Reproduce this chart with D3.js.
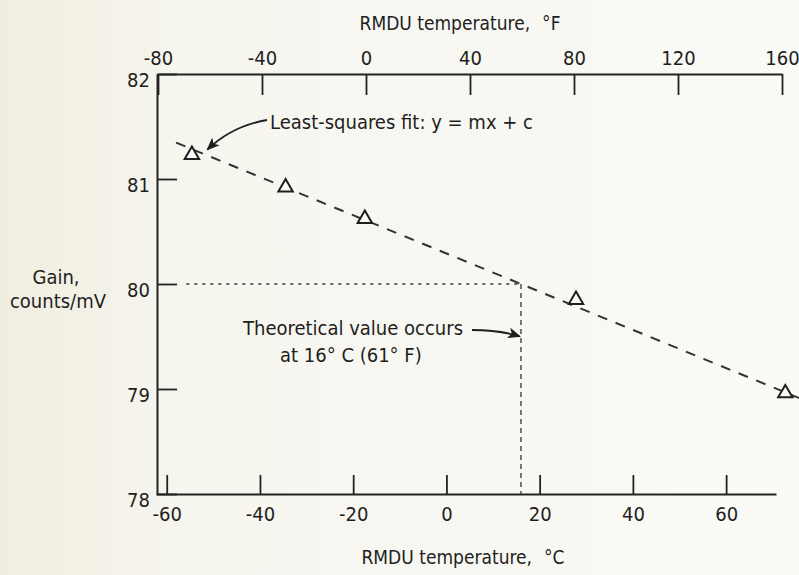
<!DOCTYPE html>
<html>
<head>
<meta charset="utf-8">
<script src="https://cdn.jsdelivr.net/npm/d3@7"></script>
<style>
  html, body { margin: 0; padding: 0; background: #f6f5ee; }
  svg { display: block; }
  text { font-family: "Liberation Sans Narrow", "DejaVu Sans Condensed", Arial, sans-serif; fill: #1e1e1e; }
</style>
</head>
<body>
<svg id="chart" width="799" height="575"></svg>
<script>
// Measured gain of the RMDU against its temperature
const tempC = [-54.6, -34.5, -17.5, 27.8, 72.7];
const gain  = [81.23, 80.92, 80.62, 79.85, 78.96];

// Least-squares fit y = m x + c (x in deg C)
const fitSlope = -0.0182;
const fitIntercept = 80.291;
const fitRangeC = [-58, 76];

// Theoretical gain value
const theoreticalGain = 80;

// Axis ticks
const ticksC = [-60, -40, -20, 0, 20, 40, 60];
const ticksF = [-80, -40, 0, 40, 80, 120, 160];
const ticksGain = [78, 79, 80, 81, 82];

const svg = d3.select("#chart");
const W = 799, H = 575;
const FONT = "\"Liberation Sans Narrow\", \"DejaVu Sans Condensed\", Arial, sans-serif";
const hyphenFmt = d => String(d);

// paper background, slightly warmer on the left
const defs = svg.append("defs");
const grad = defs.append("linearGradient").attr("id", "paper").attr("x1", 0).attr("x2", 1).attr("y1", 0).attr("y2", 0);
grad.append("stop").attr("offset", "0%").attr("stop-color", "#f0eedf");
grad.append("stop").attr("offset", "22%").attr("stop-color", "#f6f5ee");
grad.append("stop").attr("offset", "100%").attr("stop-color", "#fafaf7");
svg.append("rect").attr("width", W).attr("height", H).attr("fill", "url(#paper)");

defs.append("marker").attr("id", "arrow").attr("viewBox", "0 0 12 10")
  .attr("refX", 11).attr("refY", 5).attr("markerWidth", 13).attr("markerHeight", 11)
  .attr("markerUnits", "userSpaceOnUse").attr("orient", "auto")
  .append("path").attr("d", "M0,0 L12,5 L0,10 L3,5 Z").attr("fill", "#1e1e1e");

// Scales
const xC = d3.scaleLinear().domain([-62.3, 70.7]).range([156, 776]);
const xF = d3.scaleLinear().domain([-80, 160]).range([158, 782]);
const y  = d3.scaleLinear().domain([78, 82]).range([494, 74]);

const axisStyle = g => {
  g.selectAll("path.domain").attr("stroke", "#222").attr("stroke-width", 2);
  g.selectAll(".tick line").attr("stroke", "#222").attr("stroke-width", 1.8);
  g.selectAll(".tick text").attr("font-size", 20).attr("fill", "#1e1e1e").attr("font-family", FONT);
};

// Bottom axis (deg C)
svg.append("g").attr("transform", `translate(0,${y(78)})`)
  .call(d3.axisBottom(xC).tickValues(ticksC).tickSizeInner(-19).tickSizeOuter(0).tickPadding(13).tickFormat(hyphenFmt))
  .call(axisStyle);

// Top axis (deg F)
svg.append("g").attr("transform", `translate(0,${y(82)})`)
  .call(d3.axisTop(xF).tickValues(ticksF).tickSizeInner(-21).tickSizeOuter(0).tickPadding(9).tickFormat(hyphenFmt))
  .call(axisStyle);

// Left axis (gain)
const gAxis = svg.append("g").attr("transform", `translate(${xC.range()[0] + 1},0)`)
  .call(d3.axisLeft(y).tickValues(ticksGain).tickSizeInner(-20).tickSizeOuter(0).tickPadding(7).tickFormat(hyphenFmt))
  .call(axisStyle);
gAxis.selectAll(".tick text").attr("dy", "0.6em");

// Axis titles
const topTitle = svg.append("text").attr("x", 460).attr("y", 30).attr("font-size", 19)
  .attr("text-anchor", "middle");
topTitle.append("tspan").text("RMDU temperature,");
topTitle.append("tspan").attr("dx", 12).text("\u00B0F");
const botTitle = svg.append("text").attr("x", 463).attr("y", 564).attr("font-size", 19)
  .attr("text-anchor", "middle");
botTitle.append("tspan").text("RMDU temperature,");
botTitle.append("tspan").attr("dx", 12).text("\u00B0C");
svg.append("text").attr("x", 56).attr("y", 284).attr("text-anchor", "middle")
  .attr("font-size", 20).text("Gain,");
svg.append("text").attr("x", 58).attr("y", 308).attr("text-anchor", "middle")
  .attr("font-size", 20).text("counts/mV");

// Theoretical value guide lines
const theoreticalC = (theoreticalGain - fitIntercept) / fitSlope;
svg.append("line")
  .attr("x1", xC(-55.8)).attr("x2", xC(theoreticalC))
  .attr("y1", y(theoreticalGain)).attr("y2", y(theoreticalGain))
  .attr("stroke", "#666").attr("stroke-width", 1.8).attr("stroke-dasharray", "3,5");
svg.append("line")
  .attr("x1", xC(theoreticalC)).attr("x2", xC(theoreticalC))
  .attr("y1", y(theoreticalGain)).attr("y2", y(78))
  .attr("stroke", "#444").attr("stroke-width", 1.4).attr("stroke-dasharray", "5,4");

// Least-squares fit line
const fitLine = d3.line().x(d => xC(d)).y(d => y(fitSlope * d + fitIntercept));
svg.append("path").datum(fitRangeC).attr("d", fitLine)
  .attr("fill", "none").attr("stroke", "#333").attr("stroke-width", 2)
  .attr("stroke-dasharray", "10,9");

// Data points: open triangles
svg.append("g").selectAll("path").data(tempC.map((t, i) => [t, gain[i]])).join("path")
  .attr("transform", d => `translate(${xC(d[0])},${y(d[1])})`)
  .attr("d", d3.symbol(d3.symbolTriangle, 90))
  .attr("fill", "#fafaf7").attr("stroke", "#1e1e1e").attr("stroke-width", 2);

// Annotation: fit label and curved leader
svg.append("text").attr("x", 270).attr("y", 129).attr("font-size", 20)
  .text("Least-squares fit:  y = mx + c");
svg.append("path")
  .attr("d", `M267,120 Q232,126 ${xC(-51.3)},${y(81.26) - 2}`)
  .attr("fill", "none").attr("stroke", "#1e1e1e").attr("stroke-width", 1.8)
  .attr("marker-end", "url(#arrow)");

// Annotation: theoretical value
svg.append("text").attr("x", 243).attr("y", 335).attr("font-size", 20)
  .text("Theoretical value occurs");
svg.append("text").attr("x", 280).attr("y", 362).attr("font-size", 20)
  .text("at 16\u00B0 C (61\u00B0 F)");
svg.append("path")
  .attr("d", `M472,330 Q500,330 ${xC(theoreticalC) - 1},${y(79.5)}`)
  .attr("fill", "none").attr("stroke", "#1e1e1e").attr("stroke-width", 1.8)
  .attr("marker-end", "url(#arrow)");
</script>
</body>
</html>
